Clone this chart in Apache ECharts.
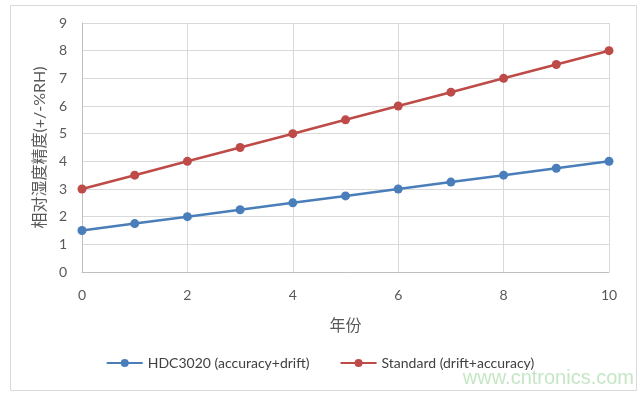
<!DOCTYPE html>
<html><head><meta charset="utf-8">
<script src="https://cdn.jsdelivr.net/npm/echarts@6/dist/echarts.min.js"></script>
<style>html,body{margin:0;padding:0;background:#fff}#c{width:640px;height:396px}</style>
</head><body><div id="c"></div>
<script>
const years = [0,1,2,3,4,5,6,7,8,9,10];
const hdc3020 = [1.5,1.75,2,2.25,2.5,2.75,3,3.25,3.5,3.75,4];
const standard = [3,3.5,4,4.5,5,5.5,6,6.5,7,7.5,8];
const seriesNames = ['HDC3020 (accuracy+drift)','Standard (drift+accuracy)'];
const font = 'Lato, "Noto Sans CJK SC", sans-serif';
const chart = echarts.init(document.getElementById('c'));
chart.setOption({
  animation:false,
  graphic:[
    {type:'rect',shape:{x:10.5,y:5.5,width:626,height:385},style:{fill:'none',stroke:'#d9d9d9',lineWidth:1}},
    {type:'text',right:6,top:368,style:{text:'www.cntronics.com',fill:'rgba(150,210,150,0.55)',font:'20px "Liberation Sans", sans-serif'}}
  ],
  grid:{left:82,right:31,top:23,bottom:124},
  legend:{bottom:21,left:'center',itemGap:30,itemWidth:36,itemHeight:10,
    textStyle:{fontFamily:font,fontSize:14,color:'#404040'},
    data:seriesNames},
  xAxis:{type:'value',min:0,max:10,interval:2,
    name:'年份',nameLocation:'middle',nameGap:46,
    nameTextStyle:{fontFamily:font,fontSize:16,color:'#595959'},
    axisLine:{show:true,lineStyle:{color:'#bfbfbf'}},
    axisTick:{show:false},
    axisLabel:{fontFamily:font,fontSize:14,color:'#595959',margin:16},
    splitLine:{show:true,lineStyle:{color:'#d9d9d9'}}},
  yAxis:{type:'value',min:0,max:9,interval:1,
    name:'相对湿度精度(+/-%RH)',nameLocation:'middle',nameGap:30,
    nameTextStyle:{fontFamily:font,fontSize:16,color:'#595959'},
    axisLine:{show:true,lineStyle:{color:'#bfbfbf'}},
    axisTick:{show:false},
    axisLabel:{fontFamily:font,fontSize:14,color:'#595959',margin:15},
    splitLine:{show:true,lineStyle:{color:'#d9d9d9'}}},
  series:[
    {name:seriesNames[0],type:'line',data:years.map((x,i)=>[x,hdc3020[i]]),
     symbol:'circle',symbolSize:9,lineStyle:{width:2.5,color:'#4A7EBB'},itemStyle:{color:'#4A7EBB'}},
    {name:seriesNames[1],type:'line',data:years.map((x,i)=>[x,standard[i]]),
     symbol:'circle',symbolSize:9,lineStyle:{width:2.5,color:'#BE4B48'},itemStyle:{color:'#BE4B48'}}
  ]
});
</script></body></html>
